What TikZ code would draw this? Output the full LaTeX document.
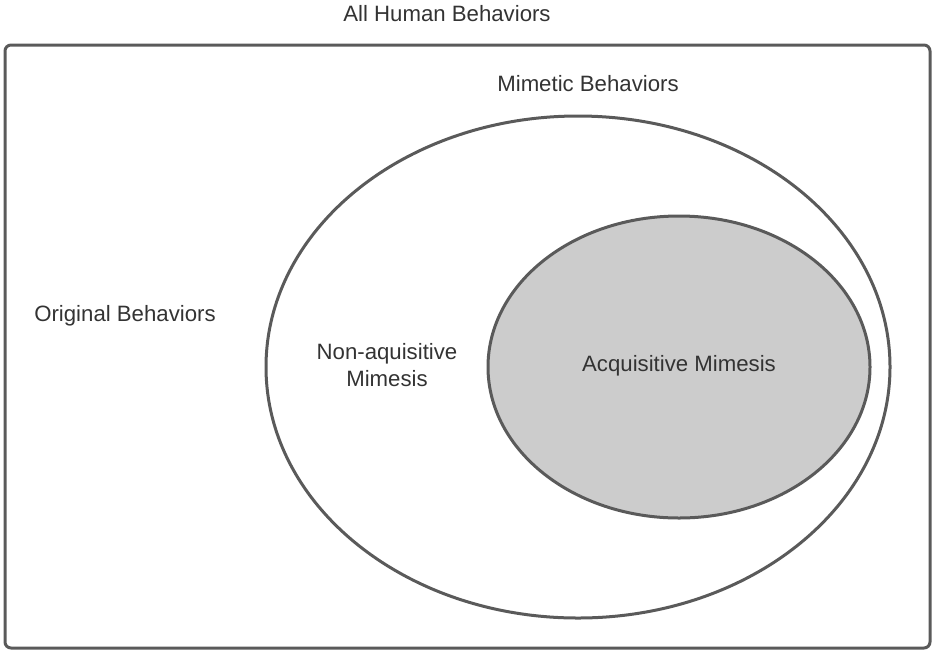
\documentclass[tikz,border=0pt]{standalone}
\usepackage{fontspec}
\setmainfont{Liberation Sans}
\usepackage{xcolor}
\usetikzlibrary{shapes.geometric}

\definecolor{edgegray}{HTML}{5A5A5A}
\definecolor{textgray}{HTML}{333333}
\definecolor{setfill}{HTML}{CCCCCC}

\begin{document}
\begin{tikzpicture}[
  x=0.5pt, y=-0.5pt,
  setline/.style={draw=edgegray, line width=1.5pt},
  lbl/.style={font=\fontsize{11.1}{13.4}\selectfont, text=textgray, align=center, inner sep=0pt}
]
\useasboundingbox (0,0) rectangle (936,654);
% outer set
\draw[setline, rounded corners=3pt] (5,45) rectangle (930,648);
% mimetic and acquisitive sets
\node[setline, ellipse, minimum width=312pt, minimum height=251pt, inner sep=0pt] (mim) at (578,367) {};
\node[setline, ellipse, fill=setfill, minimum width=191pt, minimum height=151pt, inner sep=0pt] (acq) at (679,367) {};

\node[lbl] (all) at (447,14) {All Human Behaviors};
\node[lbl] (mimt) at (588,84) {Mimetic Behaviors};
\node[lbl] (orig) at (125,316) {Original Behaviors};
\node[lbl] (nonacq) at (387,365) {Non-aquisitive\\Mimesis};
\node[lbl] (acqt) at (679,366) {Acquisitive Mimesis};
\end{tikzpicture}
\end{document}
